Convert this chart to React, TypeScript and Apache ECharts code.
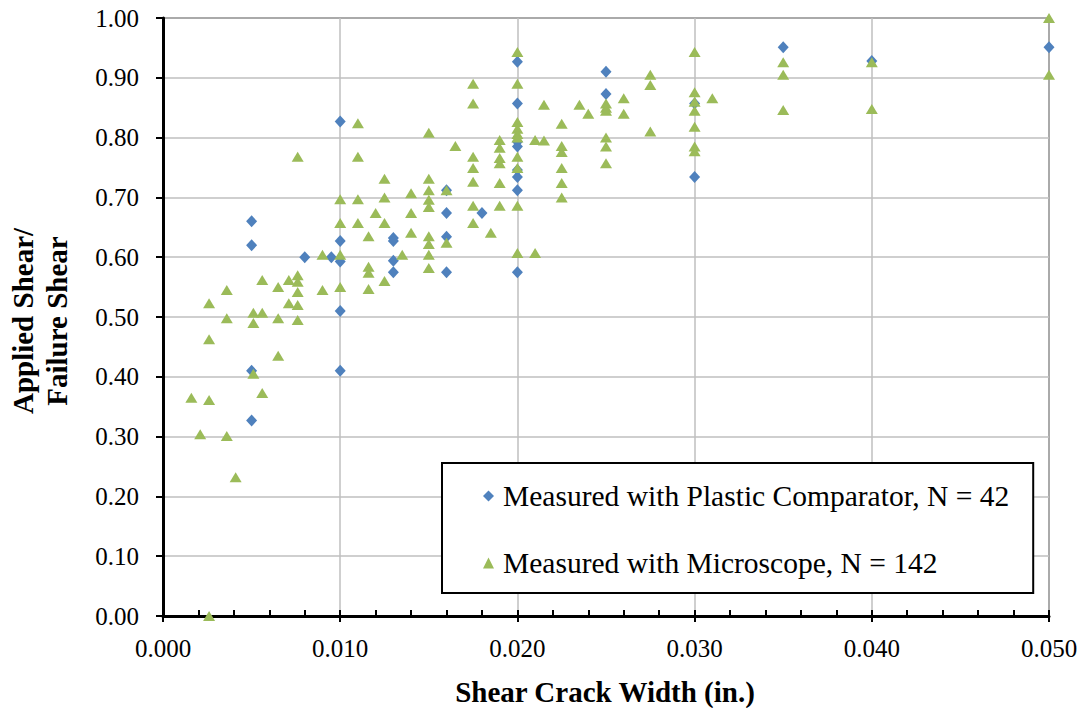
import React, { useEffect, useRef } from "react";
import * as echarts from "echarts";

const xTickLabels = ["0.000", "0.010", "0.020", "0.030", "0.040", "0.050"];
const yTickLabels = ["0.00", "0.10", "0.20", "0.30", "0.40", "0.50", "0.60", "0.70", "0.80", "0.90", "1.00"];

const plasticName = "Measured with Plastic Comparator, N = 42";
const microName = "Measured with Microscope, N = 142";

const plasticX = [
  0.005, 0.005, 0.005, 0.005,
  0.008, 0.0095,
  0.010, 0.010, 0.010, 0.010, 0.010,
  0.013, 0.013, 0.013, 0.013,
  0.016, 0.016, 0.016, 0.016,
  0.018,
  0.020, 0.020, 0.020, 0.020, 0.020, 0.020, 0.020, 0.020,
  0.025, 0.025,
  0.030, 0.030,
  0.035, 0.040, 0.050,
];
const plasticY = [
  0.66, 0.62, 0.41, 0.327,
  0.60, 0.60,
  0.827, 0.627, 0.593, 0.51, 0.41,
  0.632, 0.627, 0.594, 0.575,
  0.712, 0.674, 0.634, 0.575,
  0.674,
  0.927, 0.857, 0.793, 0.785, 0.746, 0.734, 0.712, 0.575,
  0.91, 0.873,
  0.857, 0.734,
  0.951, 0.928, 0.951,
];

const microX = [
  0.0016, 0.0021, 0.0026, 0.0026, 0.0026, 0.0026,
  0.0036, 0.0036, 0.0036, 0.0041,
  0.0051, 0.0051, 0.0051, 0.0056, 0.0056, 0.0056,
  0.0065, 0.0065, 0.0065, 0.0071, 0.0071,
  0.0076, 0.0076, 0.0076, 0.0076, 0.0076, 0.0076,
  0.009, 0.009,
  0.010, 0.010, 0.010, 0.010,
  0.011, 0.011, 0.011, 0.011,
  0.0116, 0.0116, 0.0116, 0.0116,
  0.012, 0.0125, 0.0125, 0.0125, 0.0125,
  0.0135, 0.014, 0.014, 0.014,
  0.015, 0.015, 0.015, 0.015, 0.015, 0.015, 0.015, 0.015, 0.015,
  0.016, 0.016, 0.0165,
  0.0175, 0.0175, 0.0175, 0.0175, 0.0175, 0.0175, 0.0175,
  0.0185,
  0.019, 0.019, 0.019, 0.019, 0.019, 0.019,
  0.020, 0.020, 0.020, 0.020, 0.020, 0.020, 0.020, 0.020, 0.020, 0.020,
  0.021, 0.021, 0.0215, 0.0215,
  0.0225, 0.0225, 0.0225, 0.0225, 0.0225, 0.0225,
  0.0235, 0.024,
  0.025, 0.025, 0.025, 0.025, 0.025, 0.025,
  0.026, 0.026,
  0.0275, 0.0275, 0.0275,
  0.030, 0.030, 0.030, 0.030, 0.030, 0.030, 0.030,
  0.031,
  0.035, 0.035, 0.035,
  0.040, 0.040,
  0.050, 0.050,
];
const microY = [
  0.365, 0.304, 0.523, 0.463, 0.361, 0.0,
  0.545, 0.498, 0.301, 0.232,
  0.507, 0.49, 0.405, 0.562, 0.507, 0.373,
  0.55, 0.498, 0.435, 0.562, 0.523,
  0.768, 0.57, 0.559, 0.542, 0.52, 0.495,
  0.604, 0.545,
  0.697, 0.657, 0.604, 0.55,
  0.824, 0.768, 0.697, 0.657,
  0.635, 0.584, 0.574, 0.547,
  0.674, 0.731, 0.70, 0.657, 0.56,
  0.604, 0.707, 0.674, 0.641,
  0.808, 0.731, 0.712, 0.696, 0.684, 0.635, 0.622, 0.604, 0.582,
  0.712, 0.624, 0.786,
  0.89, 0.857, 0.768, 0.749, 0.726, 0.686, 0.657,
  0.641,
  0.796, 0.783, 0.766, 0.757, 0.724, 0.686,
  0.943, 0.89, 0.826, 0.815, 0.806, 0.80, 0.768, 0.749, 0.686, 0.607,
  0.796, 0.607, 0.855, 0.795,
  0.823, 0.786, 0.776, 0.749, 0.724, 0.70,
  0.855, 0.84,
  0.857, 0.85, 0.845, 0.80, 0.785, 0.757,
  0.866, 0.84,
  0.905, 0.888, 0.81,
  0.943, 0.876, 0.86, 0.845, 0.818, 0.785, 0.777,
  0.866,
  0.926, 0.905, 0.846,
  0.926, 0.848,
  1.0, 0.905,
];

const FONT = "Liberation Serif";
const BLUE = "#4F81BD";
const GREEN = "#9BBB59";

export default function App() {
  const ref = useRef<HTMLDivElement>(null);
  useEffect(() => {
    if (!ref.current) return;
    document.body.style.margin = "0";
    document.body.style.overflow = "hidden";
    const chart = echarts.init(ref.current, null, { renderer: "svg" });
    const plasticData = plasticX.map((x, i) => [x, plasticY[i]]);
    const microData = microX.map((x, i) => [x, microY[i]]);
    const xLabelFmt = (v: number) => xTickLabels[Math.round(v / 0.01)] ?? v.toFixed(3);
    chart.setOption({
      animation: false,
      backgroundColor: "#ffffff",
      textStyle: { fontFamily: FONT },
      grid: {
        left: 163,
        top: 18,
        width: 886,
        height: 598,
        show: true,
        borderColor: "#6d6d6d",
        borderWidth: 2,
        backgroundColor: "transparent",
      },
      xAxis: [
        {
          type: "value",
          min: 0,
          max: 0.05,
          interval: 0.01,
          position: "bottom",
          axisLine: { show: true, onZero: false, lineStyle: { color: "#000", width: 3 } },
          axisTick: { show: true, inside: true, length: 6, lineStyle: { color: "#000", width: 2 } },
          minorTick: { show: true, splitNumber: 5, length: 6, lineStyle: { color: "#000", width: 2 } },
          splitLine: { show: true, lineStyle: { color: "#BFBFBF", width: 1.5 } },
          axisLabel: {
            margin: 20,
            fontSize: 25,
            color: "#000",
            fontFamily: FONT,
            formatter: xLabelFmt,
          },
        },
        {
          type: "value",
          min: 0,
          max: 0.05,
          interval: 0.01,
          position: "bottom",
          offset: 0,
          axisLine: { show: false },
          axisTick: { show: true, length: 6, lineStyle: { color: "#000", width: 2 } },
          splitLine: { show: false },
          axisLabel: { show: false },
        },
      ],
      yAxis: {
        type: "value",
        min: 0,
        max: 1,
        interval: 0.1,
        axisLine: { show: true, onZero: false, lineStyle: { color: "#000", width: 3 } },
        axisTick: { show: true, length: 7, lineStyle: { color: "#000", width: 2 } },
        splitLine: { show: true, lineStyle: { color: "#BFBFBF", width: 1.5 } },
        axisLabel: {
          margin: 24,
          fontSize: 25,
          color: "#000",
          fontFamily: FONT,
          formatter: (v: number) => yTickLabels[Math.round(v / 0.1)] ?? v.toFixed(2),
        },
      },
      legend: {
        orient: "vertical",
        left: 442,
        top: 463,
        backgroundColor: "#fff",
        borderColor: "#000",
        borderWidth: 2,
        padding: [18, 24, 15, 41],
        itemGap: 37,
        itemWidth: 11,
        itemHeight: 11,
        textStyle: {
          fontSize: 29.5,
          lineHeight: 30,
          color: "#000",
          fontFamily: FONT,
          padding: [0, 0, 0, 4],
        },
        data: [
          { name: plasticName, icon: "diamond", itemStyle: { color: BLUE } },
          { name: microName, icon: "triangle", itemStyle: { color: GREEN } },
        ],
      },
      graphic: [
        {
          type: "text",
          x: 605,
          y: 692,
          style: {
            text: "Shear Crack Width (in.)",
            fontFamily: FONT,
            fontWeight: "bold",
            fontSize: 29,
            fill: "#000",
            align: "center",
            verticalAlign: "middle",
          },
        },
        {
          type: "text",
          rotation: Math.PI / 2,
          x: 40,
          y: 321,
          style: {
            text: "Applied Shear/\nFailure Shear",
            fontFamily: FONT,
            fontWeight: "bold",
            fontSize: 29,
            fill: "#000",
            align: "center",
            verticalAlign: "middle",
            lineHeight: 34,
          },
        },
      ],
      series: [
        {
          name: plasticName,
          type: "scatter",
          xAxisIndex: 0,
          symbol: "diamond",
          symbolSize: [11, 12],
          itemStyle: { color: BLUE, opacity: 1 },
          data: plasticData,
          z: 3,
        },
        {
          name: microName,
          type: "scatter",
          xAxisIndex: 0,
          symbol: "triangle",
          symbolSize: [12, 10],
          itemStyle: { color: GREEN, opacity: 1 },
          data: microData,
          z: 4,
        },
      ],
    });
    return () => chart.dispose();
  }, []);
  return <div ref={ref} style={{ width: 1081, height: 708 }} />;
}
